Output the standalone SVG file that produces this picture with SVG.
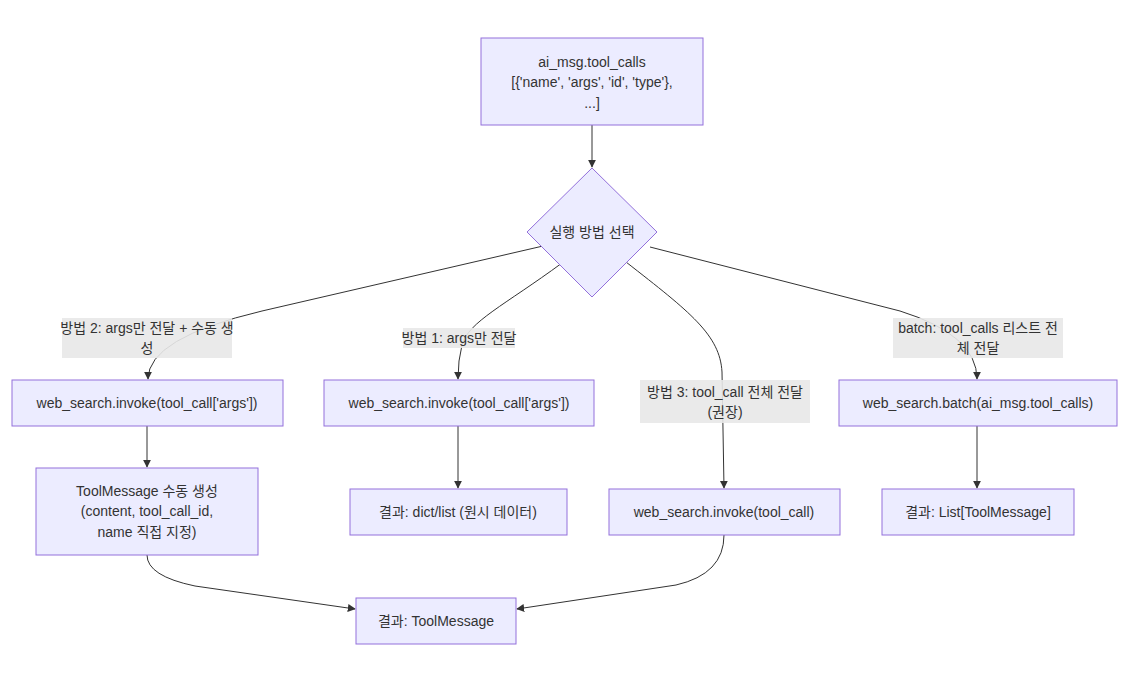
<svg xmlns="http://www.w3.org/2000/svg" width="1136" height="682" viewBox="0 0 1136 682">
<style>
.node rect,.node polygon{fill:#ECECFF;stroke:#9370DB;stroke-width:1}
text{font-family:"Liberation Sans","Noto Sans CJK KR",sans-serif;font-size:14px;fill:#333;text-anchor:middle;dominant-baseline:central}
.edge{fill:none;stroke:#333;stroke-width:1}
.lbl rect{fill:#e8e8e8;opacity:0.9}
</style>
<defs>
<marker id="arr" viewBox="0 0 10 10" refX="9" refY="5" markerWidth="8" markerHeight="8" markerUnits="userSpaceOnUse" orient="auto">
<path d="M0,0 L10,5 L0,10 z" fill="#333"/>
</marker>
</defs>
<rect width="1136" height="682" fill="#fff"/>
<g id="connectors">
<path class="edge" d="M592,125 L592,167" marker-end="url(#arr)"/>
<path class="edge" d="M556,243 L262,311 Q148,338 148,379" marker-end="url(#arr)"/>
<path class="edge" d="M562,263 C505,305 468,322 462,345 Q458,360 458,379" marker-end="url(#arr)"/>
<path class="edge" d="M626,262 C690,312 720,335 722,372 L724,488" marker-end="url(#arr)"/>
<path class="edge" d="M650,247 L900,311 Q977,335 977,379" marker-end="url(#arr)"/>
<path class="edge" d="M147,426 L147,467" marker-end="url(#arr)"/>
<path class="edge" d="M458,426 L458,488" marker-end="url(#arr)"/>
<path class="edge" d="M977,426 L977,488" marker-end="url(#arr)"/>
<path class="edge" d="M147,555 Q147,576 195,586 L355,609" marker-end="url(#arr)"/>
<path class="edge" d="M724,535 Q724,574 676,585 L517,609" marker-end="url(#arr)"/>
</g>
<g id="edge-labels">
<g class="lbl" id="lbl-m2"><rect x="62" y="318" width="170" height="40"/><text x="147" y="328">방법 2: args만 전달 + 수동 생</text><text x="147" y="348">성</text></g>
<g class="lbl" id="lbl-m1"><rect x="403" y="328" width="112" height="20"/><text x="459" y="338">방법 1: args만 전달</text></g>
<g class="lbl" id="lbl-m3"><rect x="640" y="380" width="170" height="43"/><text x="725" y="392">방법 3: tool_call 전체 전달</text><text x="725" y="412">(권장)</text></g>
<g class="lbl" id="lbl-batch"><rect x="893" y="318" width="170" height="40"/><text x="978" y="328">batch: tool_calls 리스트 전</text><text x="978" y="348">체 전달</text></g>
</g>
<g class="node" id="n-toolcalls"><rect x="481" y="38" width="222" height="87"/><text x="592" y="62">ai_msg.tool_calls</text><text x="592" y="82">[{'name', 'args', 'id', 'type'},</text><text x="592" y="103">...]</text></g>
<g class="node" id="n-choice"><polygon points="592,168 657,232 592,297 527,232"/><text x="592" y="232">실행 방법 선택</text></g>
<g class="node" id="n-invokeA"><rect x="12" y="380" width="271" height="46"/><text x="147" y="403">web_search.invoke(tool_call['args'])</text></g>
<g class="node" id="n-invokeB"><rect x="324" y="380" width="270" height="46"/><text x="459" y="403">web_search.invoke(tool_call['args'])</text></g>
<g class="node" id="n-batch"><rect x="839" y="380" width="278" height="46"/><text x="978" y="403">web_search.batch(ai_msg.tool_calls)</text></g>
<g class="node" id="n-manual"><rect x="36" y="468" width="222" height="87"/><text x="147" y="491">ToolMessage 수동 생성</text><text x="147" y="511">(content, tool_call_id,</text><text x="147" y="532">name 직접 지정)</text></g>
<g class="node" id="n-dict"><rect x="350" y="489" width="217" height="46"/><text x="458" y="512">결과: dict/list (원시 데이터)</text></g>
<g class="node" id="n-invokeC"><rect x="609" y="489" width="231" height="46"/><text x="724" y="512">web_search.invoke(tool_call)</text></g>
<g class="node" id="n-list"><rect x="882" y="489" width="192" height="46"/><text x="978" y="512">결과: List[ToolMessage]</text></g>
<g class="node" id="n-result"><rect x="356" y="598" width="160" height="46"/><text x="436" y="621">결과: ToolMessage</text></g>
</svg>
